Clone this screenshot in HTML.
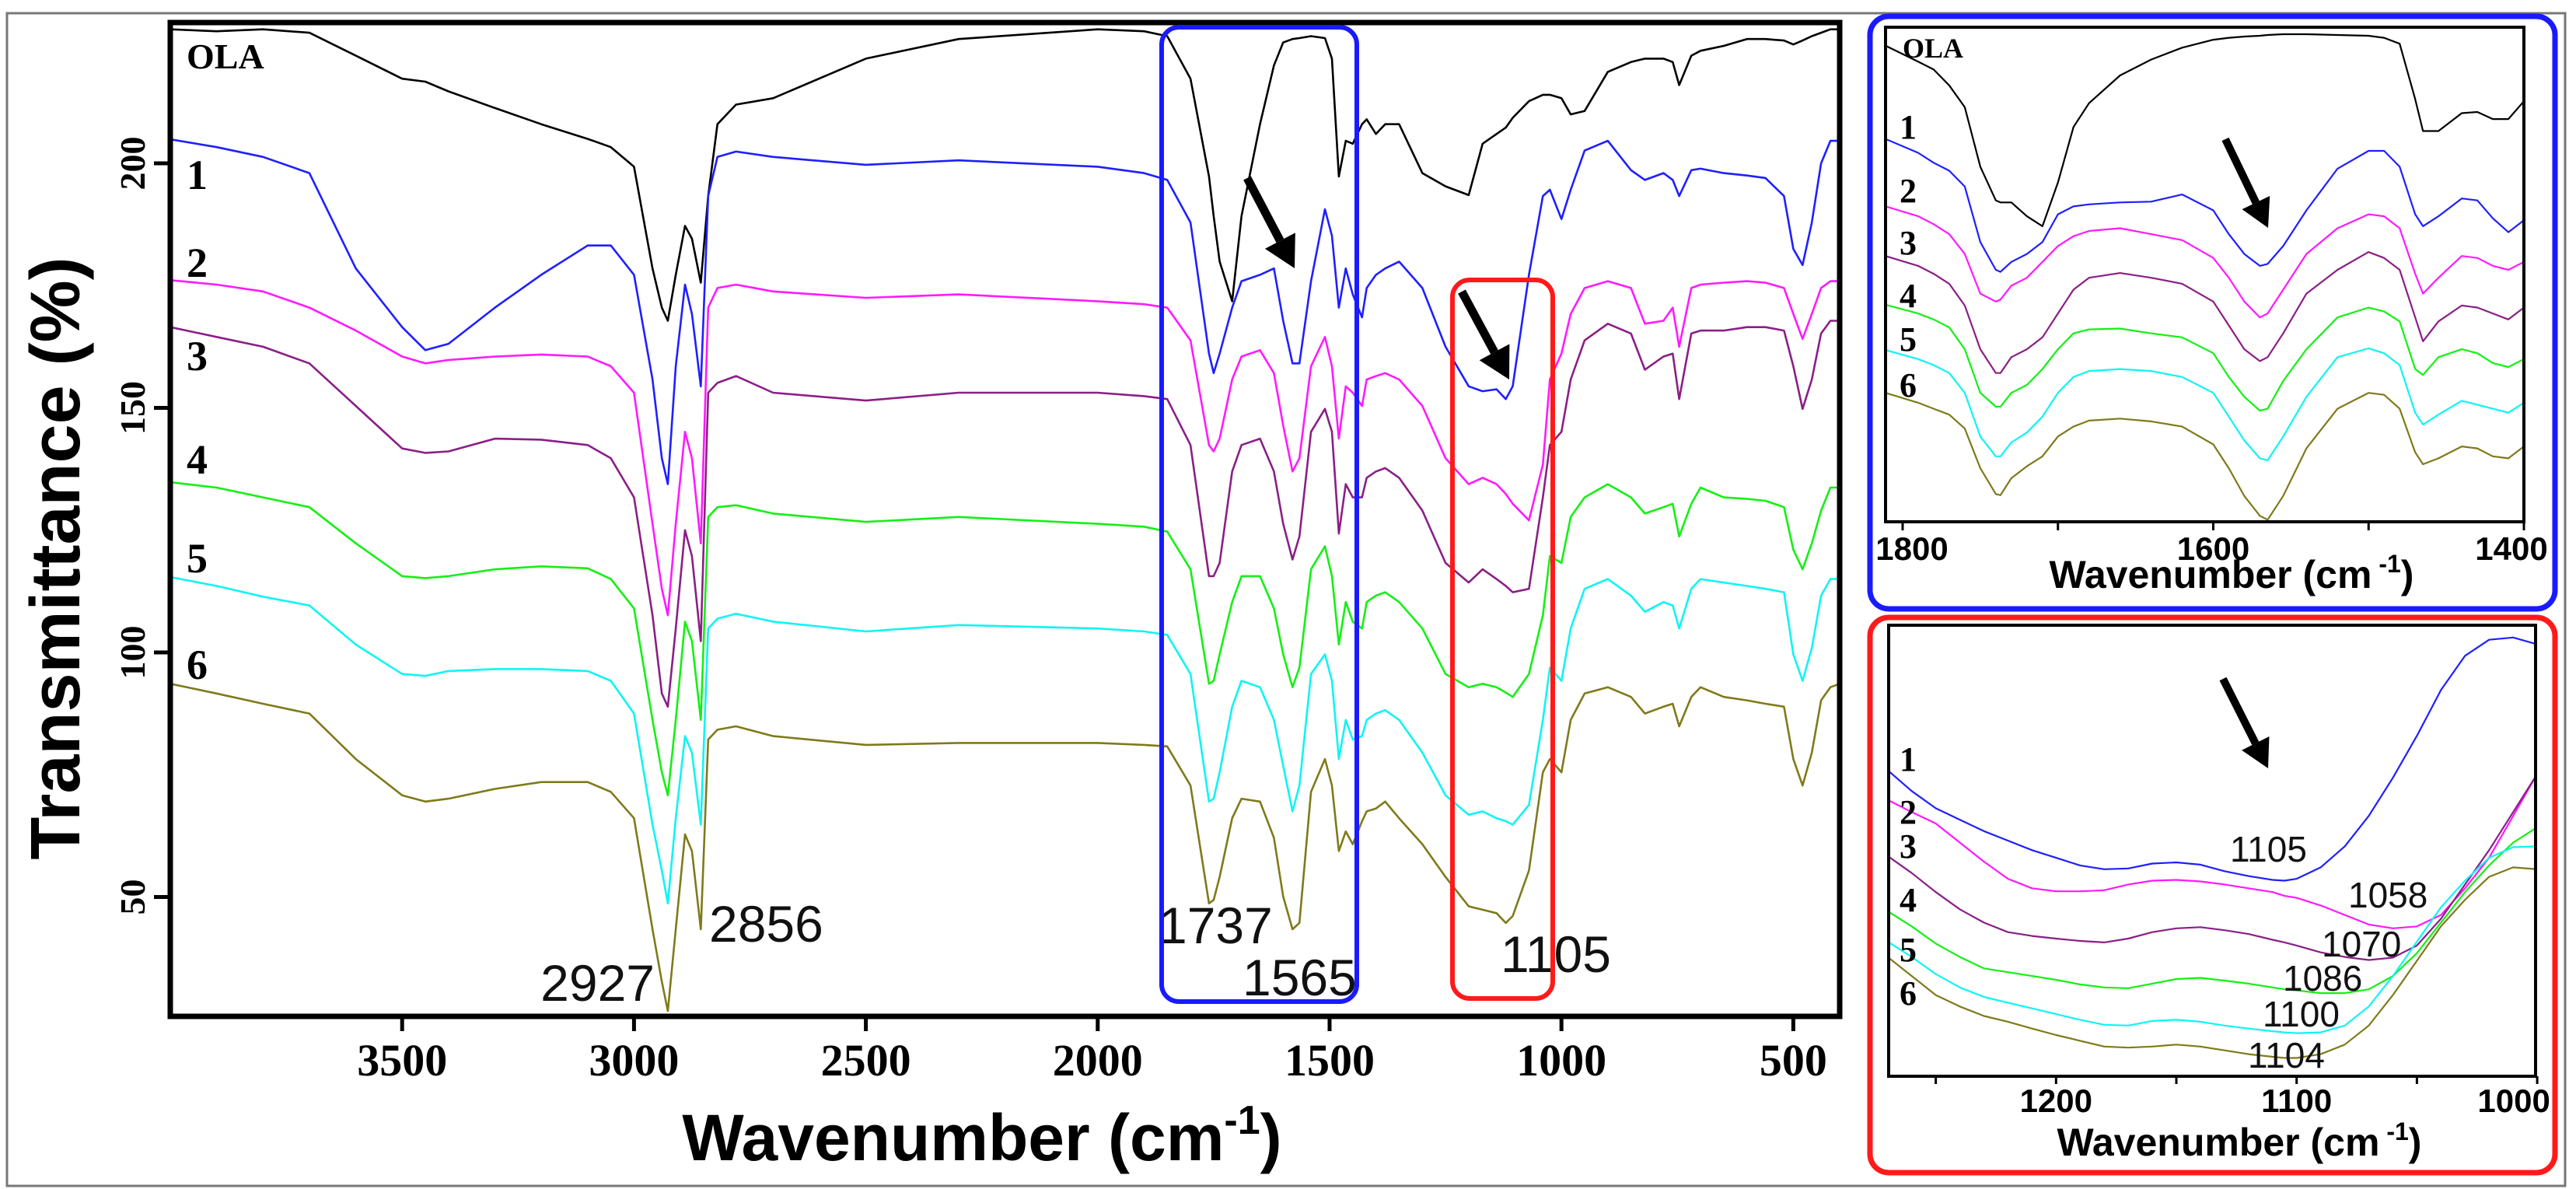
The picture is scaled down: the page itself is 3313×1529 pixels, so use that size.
<!DOCTYPE html>
<html><head><meta charset="utf-8"><style>
html,body{margin:0;padding:0;background:#fff}
svg{display:block}
text{font-family:"Liberation Sans",Arial,sans-serif}
.serif, .serif text, text.serif{font-family:"Liberation Serif","Times New Roman",serif;font-weight:bold}
</style></head><body>
<svg id="fig" width="3313" height="1529" viewBox="0 0 3313 1529" xmlns="http://www.w3.org/2000/svg">
<defs>
<clipPath id="cMain"><rect x="219" y="29" width="2147" height="1278"/></clipPath>
<clipPath id="cIn1"><rect x="2425" y="35" width="821" height="636"/></clipPath>
<clipPath id="cIn2"><rect x="2429" y="804" width="832" height="580"/></clipPath>
</defs>
<rect x="9" y="17" width="3290" height="1508" fill="none" stroke="#777" stroke-width="3"/>
<g id="mainSeries" clip-path="url(#cMain)"></g>
<rect x="219" y="29" width="2147" height="1278" fill="none" stroke="#000" stroke-width="7"/>
<g id="mainAxes"></g>
<text x="78" y="718" transform="rotate(-90 78 718)" text-anchor="middle" dominant-baseline="middle" font-size="90" font-weight="bold">Transmittance (%)</text>
<text x="1263" y="1492" text-anchor="middle" font-size="84" font-weight="bold">Wavenumber (cm<tspan font-size="52" dy="-34">-1</tspan><tspan dy="34">)</tspan></text>
<g class="serif">
<text x="240" y="88" font-size="46">OLA</text>
<text x="240" y="243" font-size="54">1</text>
<text x="240" y="356" font-size="54">2</text>
<text x="240" y="476" font-size="54">3</text>
<text x="240" y="609" font-size="54">4</text>
<text x="240" y="736" font-size="54">5</text>
<text x="240" y="873" font-size="54">6</text>
</g>
<g font-size="66" fill="#111">
<text x="842" y="1287" text-anchor="end">2927</text>
<text x="912" y="1211">2856</text>
<text x="1490" y="1213">1737</text>
<text x="1598" y="1280">1565</text>
<text x="1930" y="1250">1105</text>
</g>
<rect x="1494" y="35" width="251" height="1253" rx="22" fill="none" stroke="#1a1aff" stroke-width="6"/>
<rect x="1868" y="360" width="129" height="924" rx="22" fill="none" stroke="#ff1a1a" stroke-width="6"/>
<g id="arrows"></g>

<rect x="2405" y="21" width="881" height="762" rx="24" fill="none" stroke="#1a1aff" stroke-width="7"/>
<g id="in1Series" clip-path="url(#cIn1)"></g>
<rect x="2425" y="35" width="821" height="636" fill="none" stroke="#000" stroke-width="4"/>
<g id="in1Axes"></g>
<text x="2870" y="756" text-anchor="middle" font-size="50" font-weight="bold">Wavenumber (cm<tspan font-size="32" dy="-20"> -1</tspan><tspan dy="20">)</tspan></text>
<g class="serif">
<text x="2447" y="74" font-size="36">OLA</text>
<text x="2443" y="178" font-size="44">1</text>
<text x="2443" y="260" font-size="44">2</text>
<text x="2443" y="327" font-size="44">3</text>
<text x="2443" y="395" font-size="44">4</text>
<text x="2443" y="451" font-size="44">5</text>
<text x="2443" y="510" font-size="44">6</text>
</g>

<rect x="2405" y="794" width="881" height="714" rx="24" fill="none" stroke="#ff1a1a" stroke-width="7"/>
<g id="in2Series" clip-path="url(#cIn2)"></g>
<rect x="2429" y="804" width="832" height="580" fill="none" stroke="#000" stroke-width="4"/>
<g id="in2Axes"></g>
<text x="2880" y="1486" text-anchor="middle" font-size="50" font-weight="bold">Wavenumber (cm<tspan font-size="32" dy="-20"> -1</tspan><tspan dy="20">)</tspan></text>
<g class="serif">
<text x="2443" y="991" font-size="44">1</text>
<text x="2443" y="1059" font-size="44">2</text>
<text x="2443" y="1103" font-size="44">3</text>
<text x="2443" y="1172" font-size="44">4</text>
<text x="2443" y="1236" font-size="44">5</text>
<text x="2443" y="1292" font-size="44">6</text>
</g>
<g font-size="46" fill="#111">
<text x="2868" y="1108">1105</text>
<text x="3020" y="1167">1058</text>
<text x="2986" y="1230">1070</text>
<text x="2936" y="1274">1086</text>
<text x="2910" y="1320">1100</text>
<text x="2891" y="1373">1104</text>
</g>
</svg>
<script>
const mainWn = [4000,3900,3800,3700,3600,3500,3450,3400,3300,3200,3100,3050,3000,2960,2940,2927,2910,2890,2875,2856,2840,2820,2780,2700,2500,2300,
2000,1900,1850,1800,1760,1750,1737,1710,1690,1650,1620,1600,1580,1565,1540,1510,1495,1480,1465,1450,1430,1420,1400,1380,1350,1300,1250,1200,1170,1140,1120,1105,1070,1040,1025,1000,980,950,900,850,820,780,760,746,720,700,650,600,560,520,500,480,460,440,420,400];
const seriesNames = ["OLA","1","2","3","4","5","6"];
const seriesColors = ["#000000","#1f1fff","#ff1aff","#8a1f86","#14f014","#10f4f4","#7f7a1a"];
const olaT = [227.4,227.0,227.4,226.7,222.0,217.3,216.7,214.7,211.3,208.0,205.0,203.3,199.3,178.5,170.5,167.8,177.2,187.2,184.6,175.6,193.3,208.0,212.0,213.3,221.4,225.4,
227.4,227.0,226.0,217.3,197.3,189.2,179.9,171.8,189.2,208.0,220.0,224.7,225.4,225.6,226.0,225.6,221.4,197.3,204.6,204.0,208.0,209.0,206.0,208.0,208.0,198.0,195.3,193.5,204.0,206.0,207.3,209.3,212.7,214.0,214.0,213.3,210.0,210.7,218.7,220.7,221.4,221.4,220.7,216.0,222.0,223.0,224.0,225.4,225.4,225.1,224.3,225.1,226.0,226.7,227.4,227.4];
const s1T = [204.9,203.3,201.3,198.0,178.5,166.5,161.8,163.1,170.5,177.2,183.2,183.2,177.2,155.8,139.7,134.4,158.5,175.2,169.2,154.4,193.3,201.3,202.4,201.3,199.7,200.6,
199.3,198.0,196.6,187.9,161.1,157.1,161.1,170.5,175.9,177.2,178.5,167.8,159.1,159.1,175.9,190.6,185.2,170.5,178.5,173.2,168.5,174.5,177.2,178.5,179.9,174.5,162.5,154.4,153.4,153.8,151.8,154.4,177.2,193.3,194.6,188.6,194.6,202.6,204.6,198.6,196.6,198.0,196.6,193.3,198.6,198.9,198.0,197.5,197.0,193.3,182.5,179.2,187.9,200.0,204.6,204.6];
const s2T = [176.1,175.2,173.8,170.5,165.8,160.5,159.1,159.8,160.5,160.9,160.5,158.5,153.1,126.3,113.0,107.6,126.3,145.1,139.7,122.3,170.5,174.5,175.2,173.8,172.5,173.2,
171.8,171.2,170.5,163.8,142.4,141.1,143.7,155.8,160.5,161.8,157.1,146.4,137.0,139.7,158.5,164.5,158.5,143.7,154.4,153.1,150.4,155.8,156.5,157.1,155.8,150.4,139.7,134.4,135.7,134.4,132.4,130.4,127.0,138.4,155.8,161.1,169.2,174.5,175.9,174.5,167.2,167.8,170.5,162.5,174.5,175.2,175.6,175.9,175.6,174.5,169.2,164.1,169.2,174.5,175.9,175.9];
const s3T = [166.5,164.5,162.5,159.1,150.4,141.7,140.8,141.1,143.7,143.5,142.4,139.7,131.7,107.6,91.6,88.9,104.9,125.0,119.7,102.3,153.1,155.1,156.5,153.1,151.5,153.1,
153.1,152.4,151.8,142.4,115.6,115.6,118.3,137.0,142.4,143.7,137.0,126.3,119.0,123.7,145.1,149.8,145.1,124.3,134.4,131.7,131.7,135.7,137.0,137.7,135.7,129.0,118.3,114.3,117.0,115.0,113.6,112.3,113.0,131.7,142.4,145.1,155.8,163.8,167.2,165.2,157.8,160.5,161.1,151.8,165.2,165.8,165.8,166.5,166.5,165.8,158.5,149.8,155.8,165.2,167.8,167.8];
const s4T = [134.8,133.7,131.7,129.7,122.3,115.6,115.2,115.6,117.0,117.6,117.2,115.0,109.0,86.2,75.5,70.8,86.2,106.3,102.3,86.2,127.7,129.7,130.1,128.4,126.7,127.7,
126.3,125.7,124.7,117.0,93.6,94.2,99.6,110.3,115.6,115.6,109.0,99.6,92.9,96.9,117.0,121.7,115.6,101.6,110.3,106.3,104.9,110.3,111.6,112.3,110.3,104.9,95.6,92.9,93.6,92.9,91.8,90.9,95.6,107.6,119.7,118.3,127.7,131.7,134.4,131.7,128.4,129.7,130.4,123.7,130.4,133.7,131.7,131.4,131.0,129.7,121.0,117.0,122.3,129.0,133.7,133.7];
const s5T = [115.4,113.6,111.4,109.6,101.6,95.6,95.2,96.2,96.6,96.6,96.2,94.2,87.5,64.8,55.4,48.7,66.1,82.9,79.5,64.8,104.9,106.9,107.9,106.3,104.3,105.6,
104.9,104.3,103.6,95.6,69.5,70.1,75.5,88.9,94.2,92.9,86.2,76.8,67.5,72.8,95.6,99.6,94.2,78.2,86.2,82.2,82.9,86.2,87.5,88.2,86.2,79.5,70.8,66.8,67.5,66.1,65.5,64.8,68.8,86.2,96.9,94.2,104.9,113.0,115.0,111.6,108.3,110.3,109.6,104.9,113.0,115.0,114.3,113.6,113.0,112.3,99.6,94.2,100.9,111.6,115.0,115.0];
const s6T = [93.6,91.6,89.5,87.5,78.2,70.8,69.5,70.1,72.1,73.5,73.5,71.5,66.1,43.4,32.7,26.7,43.4,62.8,59.4,43.4,82.2,84.2,84.9,82.9,81.1,81.5,
81.5,81.1,80.8,72.8,48.7,49.4,54.1,66.1,70.1,69.5,62.1,50.1,43.4,44.7,71.5,78.2,72.8,59.4,63.4,60.8,65.5,67.5,68.1,69.5,66.1,60.8,54.1,48.1,47.4,46.7,44.7,46.1,55.4,75.5,78.2,75.5,86.2,91.6,92.9,90.9,87.5,88.9,89.5,84.9,90.9,92.9,90.9,90.2,89.5,88.9,78.2,72.8,79.5,90.2,92.9,93.6];
const mainXTicks = [3500,3000,2500,2000,1500,1000,500];
const mainYTicks = [200,150,100,50];

const in1Wn = [1811,1790,1780,1770,1760,1750,1740,1737,1730,1720,1710,1700,1690,1680,1660,1640,1620,1600,1590,1580,1570,1565,1555,1540,1520,1500,1490,1480,1470,1465,1455,1440,1430,1420,1410,1400];
const in1Ola = [120.0,116.0,114.0,110.0,104.5,89.5,81.0,80.5,80.5,77.0,74.5,85.5,99.5,105.5,112.5,116.5,119.5,121.5,122.0,122.3,122.5,122.7,122.9,122.9,122.7,122.5,122.0,120.5,106.5,98.5,98.5,103.0,103.3,101.5,101.5,106.0];
const in1S1 = [96.5,93.0,90.5,88.5,84.5,70.5,63.5,63.0,65.5,67.5,70.5,77.5,79.5,80.0,80.5,80.7,82.5,78.5,72.5,67.5,64.5,65.0,69.5,78.5,89.0,93.5,93.5,89.5,77.5,74.5,77.0,81.5,81.0,76.5,73.0,76.0];
const in1S2 = [79.5,77.0,75.0,72.5,67.5,57.5,55.5,56.0,59.5,61.5,65.5,69.5,72.0,73.3,74.0,72.5,71.0,66.5,61.5,55.5,51.5,52.5,58.5,67.5,74.0,77.5,77.0,74.0,62.5,57.5,61.5,67.0,66.5,64.5,63.5,65.5];
const in1S3 = [67.0,64.5,62.5,60.0,54.5,43.5,37.5,37.5,41.5,43.5,46.5,52.5,58.5,61.5,62.7,61.5,60.0,55.5,49.5,43.5,40.5,41.5,47.5,57.5,63.5,68.0,66.5,63.5,51.5,45.5,50.5,54.5,54.0,52.5,51.0,54.0];
const in1S4 = [54.7,52.5,51.0,49.0,43.5,32.5,29.0,29.0,32.5,34.5,38.5,43.5,47.5,48.5,48.7,47.5,46.5,42.5,36.5,31.5,28.0,28.5,35.5,43.5,51.5,54.0,53.0,50.5,38.5,37.0,41.5,43.5,42.5,40.0,39.0,41.0];
const in1S5 = [43.3,41.0,39.5,37.5,32.5,21.5,16.5,16.5,20.0,22.5,26.5,32.5,36.5,38.0,38.5,38.0,36.5,32.5,26.5,20.5,16.0,15.5,21.5,31.5,41.5,43.7,42.5,39.5,27.5,24.5,27.0,30.5,29.5,28.5,27.5,30.0];
const in1S6 = [32.5,30.0,28.5,27.0,23.5,13.5,7.0,6.7,11.0,14.0,16.5,21.5,24.0,25.5,26.0,25.3,24.0,19.5,13.5,6.5,1.5,0.5,6.5,18.5,28.5,32.5,32.0,28.5,17.5,14.5,16.0,19.0,18.5,16.5,16.0,19.0];
const in1Ticks = [1800,1700,1600,1500,1400];
const in1TickLabels = ["1800","","1600","","1400"];

const in2Wn = [1270,1260,1250,1240,1230,1220,1210,1200,1190,1180,1170,1160,1150,1140,1130,1120,1110,1105,1100,1090,1080,1070,1060,1050,1040,1030,1020,1010,1000];
const in2S1 = [80.2,74.7,70.2,67.2,64.2,61.7,59.2,57.2,55.2,54.2,54.4,55.7,56.0,55.4,53.7,52.4,51.4,51.2,51.7,54.7,60.2,68.2,78.2,89.2,101.2,110.2,114.4,115.0,113.2];
const in2S2 = [72.4,69.2,66.2,61.2,56.2,51.7,49.2,48.4,48.4,48.7,50.2,51.2,51.4,51.0,50.2,49.2,48.2,47.2,46.7,44.7,42.2,39.7,38.7,39.2,42.2,49.2,57.2,68.2,79.2];
const in2S3 = [57.7,53.2,48.2,43.7,40.2,37.7,36.7,36.0,35.4,35.0,36.0,37.7,38.7,39.0,38.2,37.2,35.7,35.0,34.2,32.4,31.2,30.4,31.0,34.2,41.2,50.2,59.2,69.2,79.2];
const in2S4 = [43.2,39.2,34.7,31.2,28.2,27.2,26.2,25.2,24.0,23.2,23.0,24.2,25.4,25.7,25.0,24.2,23.2,22.7,22.4,21.7,21.7,22.7,26.2,32.2,40.2,48.2,55.2,61.2,65.2];
const in2S5 = [35.2,31.2,26.7,23.2,20.7,19.2,17.7,16.2,14.7,13.4,13.2,14.4,14.7,14.2,13.2,12.4,11.7,11.4,11.2,11.4,13.2,18.2,26.2,35.2,44.2,51.2,57.2,60.0,60.2];
const in2S6 = [31.2,26.2,21.2,18.2,15.7,14.2,12.4,10.7,9.2,7.7,7.4,7.7,8.2,7.7,6.7,5.7,5.0,4.7,4.7,5.7,8.2,13.2,21.2,30.2,39.2,46.2,52.2,54.7,54.2];
const in2Ticks = [1250,1200,1150,1100,1050,1000];
const in2TickLabels = ["","1200","","1100","","1000"];

const NS = "http://www.w3.org/2000/svg";
function mk(tag, attrs, parent){const e=document.createElementNS(NS,tag);for(const k in attrs)e.setAttribute(k,attrs[k]);parent.appendChild(e);return e;}

const xMain = wn => 219 + (4000 - wn) * (2147/3600);
const yMain = v => 210 + (200 - v) * 6.29;
const xIn1 = wn => 2425 + (1811 - wn) * (821/411);
const yIn1 = v => 671 - v * 5.102;
const xIn2 = wn => 2644.3 + (1200 - wn) * 3.094;
const yIn2 = v => 1383.5 - v * 4.902;

function drawLine(g, xs, ys, fx, fy, color, w, name){
  let d = "";
  for (let i = 0; i < xs.length; i++) d += (i ? "L" : "M") + fx(xs[i]).toFixed(1) + "," + fy(ys[i]).toFixed(1);
  const p = mk("path", {d:d, fill:"none", stroke:color, "stroke-width":w, "stroke-linejoin":"round", "stroke-linecap":"round"}, g);
  
  
}

const mainData = [olaT, s1T, s2T, s3T, s4T, s5T, s6T];
const gm = document.getElementById("mainSeries");
mainData.forEach((arr, i) => drawLine(gm, mainWn, arr, xMain, yMain, seriesColors[i], 2.6, "spectrum-" + seriesNames[i].toLowerCase()));

const in1Data = [in1Ola, in1S1, in1S2, in1S3, in1S4, in1S5, in1S6];
const g1 = document.getElementById("in1Series");
in1Data.forEach((arr, i) => drawLine(g1, in1Wn, arr, xIn1, yIn1, seriesColors[i], 2.2, "inset-blue-spectrum-" + seriesNames[i].toLowerCase()));

const in2Data = [in2S1, in2S2, in2S3, in2S4, in2S5, in2S6];
const g2 = document.getElementById("in2Series");
in2Data.forEach((arr, i) => drawLine(g2, in2Wn, arr, xIn2, yIn2, seriesColors[i + 1], 2.2, "inset-red-spectrum-" + seriesNames[i + 1]));

const ga = document.getElementById("mainAxes");
mainXTicks.forEach(t => {
  const x = xMain(t);
  const l = mk("line", {x1:x, y1:1307, x2:x, y2:1326, stroke:"#000", "stroke-width":5}, ga);
  
  
  const tx = mk("text", {x:x, y:1383, "text-anchor":"middle", "font-size":58, class:"serif"}, ga);
  tx.textContent = t;
  
  
});
mainYTicks.forEach(t => {
  const y = yMain(t);
  const l = mk("line", {x1:198, y1:y, x2:219, y2:y, stroke:"#000", "stroke-width":5}, ga);
  
  
  const tx = mk("text", {x:186, y:y, "text-anchor":"middle", "font-size":46, class:"serif", transform:"rotate(-90 186 " + y + ")"}, ga);
  tx.textContent = t;
  
  
});

const ga1 = document.getElementById("in1Axes");
in1Ticks.forEach((t, i) => {
  const x = xIn1(t);
  const l = mk("line", {x1:x, y1:671, x2:x, y2:682, stroke:"#000", "stroke-width":3}, ga1);
  
  
  if (in1TickLabels[i]) {
    let lx = x; if (t === 1800) lx = x + 12; if (t === 1400) lx = x - 16;
    const tx = mk("text", {x:lx, y:720, "text-anchor":"middle", "font-size":42, "font-weight":"bold"}, ga1);
    tx.textContent = in1TickLabels[i];
    
    
  }
});
const ga2 = document.getElementById("in2Axes");
in2Ticks.forEach((t, i) => {
  const x = xIn2(t);
  const l = mk("line", {x1:x, y1:1384, x2:x, y2:1394, stroke:"#000", "stroke-width":3}, ga2);
  
  
  if (in2TickLabels[i]) {
    let lx = x; if (t === 1000) lx = x - 30;
    const tx = mk("text", {x:lx, y:1430, "text-anchor":"middle", "font-size":42, "font-weight":"bold"}, ga2);
    tx.textContent = in2TickLabels[i];
    
    
  }
});

const gArr = document.getElementById("arrows");
function arrow(x1, y1, x2, y2, w, head, name){
  const dx = x2 - x1, dy = y2 - y1, L = Math.hypot(dx, dy), ux = dx / L, uy = dy / L;
  const bx = x2 - ux * head, by = y2 - uy * head;
  const g = mk("g", {}, gArr);
  
  
  mk("line", {x1:x1, y1:y1, x2:bx, y2:by, stroke:"#000", "stroke-width":w}, g);
  const px = -uy * head * 0.55, py = ux * head * 0.55;
  mk("polygon", {points:`${x2},${y2} ${bx+px},${by+py} ${bx-px},${by-py}`, fill:"#000"}, g);
}
arrow(1604, 229, 1665, 345, 11, 40, "arrow-1565");
arrow(1880, 375, 1941, 488, 11, 40, "arrow-1105");
arrow(2862, 179, 2917, 293, 10, 36, "inset-blue-arrow");
arrow(2859, 873, 2917, 988, 10, 36, "inset-red-arrow");
</script>
</body></html>
